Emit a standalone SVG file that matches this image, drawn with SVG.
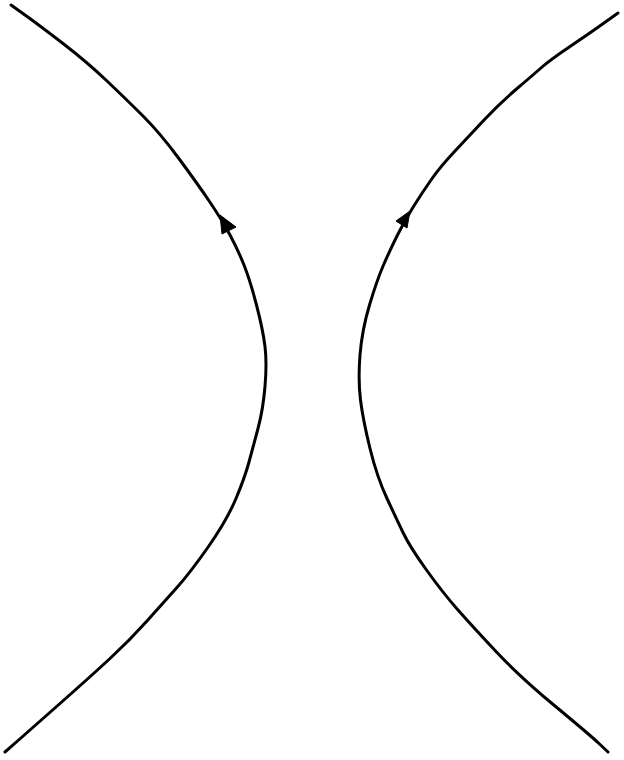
<svg xmlns="http://www.w3.org/2000/svg" width="624" height="760" viewBox="0 0 624 760">
<style>
.c{fill:none;stroke:#000;stroke-width:3;stroke-linecap:round;stroke-linejoin:round}
.a{fill:#000;stroke:#000;stroke-width:1;stroke-linejoin:round}
</style>
<rect width="624" height="760" fill="#fff"/>
<g id="connectors">
<path id="left-branch" class="c" d="M11,5 L25,15 Q39,25 63,43.5 Q87,62 107,81 Q127,100 143.5,116.5 Q160,133 178.5,158 Q197,183 209.5,201.5 Q222,220 230,235 Q238,250 244,265 Q250,280 256.5,305 Q263,330 265,346.5 Q267,363 265,386.5 Q263,410 258,428.5 Q253,447 249,462 Q245,477 236,498.5 Q227,520 208.5,546.5 Q190,573 176.5,588 Q163,603 146.5,621.5 Q130,640 110,658.5 Q90,677 60,703.5 Q30,730 17.5,741 L5,752"/>
<path id="right-branch" class="c" d="M618,13 L604,23 Q590,33 570,46.5 Q550,60 541.5,67.5 Q533,75 516.5,89 Q500,103 485,119 Q470,135 455,151 Q440,167 431,180 Q422,193 413.5,206.5 Q405,220 397.5,235 Q390,250 383.5,265 Q377,280 369.5,305 Q362,330 360,355 Q358,380 360.5,400 Q363,420 370,448.5 Q377,477 387,498.5 Q397,520 403.5,533.5 Q410,547 426.5,570 Q443,593 458,610 Q473,627 496.5,652 Q520,677 555,706 Q590,735 599,743.5 L608,752"/>
<polygon class="a" points="220,215 236,227 222,234"/>
<polygon class="a" points="410,211 407,228 396,221"/>
</g>
</svg>
